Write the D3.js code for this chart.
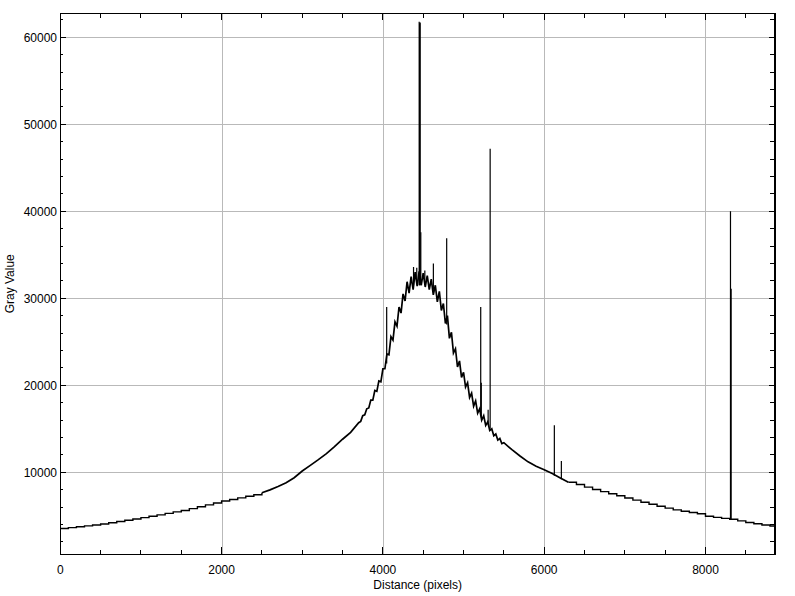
<!DOCTYPE html>
<html><head><meta charset="utf-8">
<script src="https://cdn.jsdelivr.net/npm/d3@7"></script>
<style>
html,body{margin:0;padding:0;background:#fff;}
svg{display:block;font-family:"Liberation Sans",Arial,sans-serif;}
</style></head>
<body><svg id="c" width="795" height="596"></svg>
<script>
// ---- data ----
const distance = [0,100,200,300,400,500,600,700,800,900,1000,1100,1200,1300,1400,1500,1600,1700,1800,1900,2000,2100,2200,2300,2400,2500,2600,2700,2800,2900,3000,3100,3200,3300,3400,3500,3600,
3700,3725,3750,3775,3800,3825,3850,3875,3900,3925,3950,3975,4000,4025,4050,4075,4100,4125,4150,4175,4200,4225,4250,4275,4300,4325,4350,4375,4400,4425,4450,4475,4500,4525,4550,4575,4600,4625,4650,4675,4700,4725,4750,4775,4800,4825,4850,4875,4900,4925,4950,4975,5000,5025,5050,5075,5100,5125,5150,5175,5200,5225,5250,5275,5300,5325,5350,5375,5400,5425,5450,5475,5500,
5600,5700,5800,5900,6000,6100,6200,6300,6400,6500,6600,6700,6800,6900,7000,7100,7200,7300,7400,7500,7600,7700,7800,7900,8000,8100,8200,8300,8400,8500,8600,8700,8800,8862];
const grayValue = [3540,3640,3740,3840,3950,4060,4200,4340,4490,4640,4790,4950,5110,5280,5450,5610,5830,6040,6260,6480,6700,6880,7060,7240,7420,7650,7980,8360,8800,9380,10150,10800,11450,12150,12950,13800,14600,
15700,15850,16500,16600,17300,17400,18300,18300,19400,19300,20500,20400,21900,21900,23600,23500,25600,25200,27300,26800,29000,28300,30500,29700,31900,30600,32500,31000,33000,31400,33100,31500,32900,31300,32600,31000,32200,30400,31500,29600,30800,28600,29400,27100,28000,25400,26100,23700,24200,22100,22800,20900,21500,19800,20300,18600,19100,17600,18200,16800,17300,16000,16500,15400,15800,14800,15000,14200,14400,13700,13900,13300,13400,
12600,11870,11200,10700,10300,9850,9350,8850,8600,8300,8030,7780,7540,7300,7050,6800,6560,6320,6100,5880,5680,5520,5380,5230,4950,4820,4700,4600,4420,4230,4080,3950,3830,3800];

// isolated spikes: position, foot value, top value
const spikeX    = [4047, 4380, 4420, 4450, 4456, 4462, 4470, 4520, 4626, 4791, 5213, 5220, 5305, 5330, 6126, 6213, 8310, 8318];
const spikeLow  = [22500,31500,31600,31500,31500,31500,32000,31500,31000,27000,16500,16300,15500,15000,9600, 9200, 4600, 4600];
const spikeHigh = [29000,33600,33500,61800,61600,61700,37600,33200,34000,36900,29000,20300,17200,47200,15400,11300,40000,31100];

const xMajor = [0,2000,4000,6000,8000];
const yMajor = [10000,20000,30000,40000,50000,60000];
const xLabel = "Distance (pixels)";
const yLabel = "Gray Value";

// ---- layout ----
const L=60.3, R=775, T=13.3, B=554.3;
const x = d3.scaleLinear().domain([0,8862]).range([L,R]);
const y = d3.scaleLinear().domain([575,62757]).range([B,T]);
const svg = d3.select("#c");

const xMinor = d3.range(0,8862,500);
const yMinor = d3.range(2000,62757,2000);

// grid
svg.append("g").selectAll("line").data(xMajor.filter(v=>v>0)).join("line")
  .attr("x1",d=>Math.round(x(d))+0.5).attr("x2",d=>Math.round(x(d))+0.5)
  .attr("y1",T).attr("y2",B).attr("stroke","#b9b9b9").attr("stroke-width",1);
svg.append("g").selectAll("line").data(yMajor).join("line")
  .attr("y1",d=>Math.round(y(d))+0.5).attr("y2",d=>Math.round(y(d))+0.5)
  .attr("x1",L).attr("x2",R).attr("stroke","#b9b9b9").attr("stroke-width",1);

// profile line: stepped in the flat tails, direct segments in the steep noisy middle
const pts = distance.map((d,i)=>[d,grayValue[i]]);
const leftPart  = pts.filter(p=>p[0]<=2500);
const midPart   = pts.filter(p=>p[0]>=2500 && p[0]<=6300);
const rightPart = pts.filter(p=>p[0]>=6300);
const stepLine = d3.line().x(d=>x(d[0])).y(d=>y(d[1])).curve(d3.curveStepAfter);
const linLine  = d3.line().x(d=>x(d[0])).y(d=>y(d[1]));
[[leftPart,stepLine,1.4],[midPart,linLine,1.7],[rightPart,stepLine,1.4]].forEach(([part,gen,w])=>{
  svg.append("path").datum(part)
    .attr("fill","none").attr("stroke","#000").attr("stroke-width",w)
    .attr("stroke-linejoin","miter").attr("d", gen);
});

// spikes
svg.append("g").selectAll("line").data(spikeX).join("line")
  .attr("x1",(d)=>x(d)).attr("x2",(d)=>x(d))
  .attr("y1",(d,i)=>y(spikeLow[i])).attr("y2",(d,i)=>y(spikeHigh[i]))
  .attr("stroke","#000").attr("stroke-width",1.2);

// axes (ticks inward on all sides)
const ax = svg.append("g").attr("shape-rendering","crispEdges");
function ticks(vals, len, side){
  ax.append("g").selectAll("line").data(vals).join("line")
    .each(function(d){
      const s=d3.select(this);
      if(side==="b"){ s.attr("x1",x(d)).attr("x2",x(d)).attr("y1",B).attr("y2",B-len); }
      if(side==="t"){ s.attr("x1",x(d)).attr("x2",x(d)).attr("y1",T).attr("y2",T+len); }
      if(side==="l"){ s.attr("y1",y(d)).attr("y2",y(d)).attr("x1",L).attr("x2",L+len); }
      if(side==="r"){ s.attr("y1",y(d)).attr("y2",y(d)).attr("x1",R).attr("x2",R-len); }
    }).attr("stroke","#000");
}
ticks(xMinor,4,"b"); ticks(xMajor,7,"b");
ticks(xMinor,5,"t"); ticks(xMajor,7,"t");
ticks(yMinor,3,"l"); ticks(yMajor,6,"l");
ticks(yMinor,5,"r"); ticks(yMajor,6,"r");
ax.append("rect").attr("x",L).attr("y",T).attr("width",R-L).attr("height",B-T)
  .attr("fill","none").attr("stroke","#000").attr("stroke-width",1.3);

// tick labels
svg.append("g").selectAll("text").data(xMajor).join("text")
  .attr("x",d=>x(d)).attr("y",574).attr("text-anchor","middle")
  .attr("font-size",12).attr("fill","#000").text(d=>d);
svg.append("g").selectAll("text").data(yMajor).join("text")
  .attr("x",57).attr("y",d=>y(d)+4.3).attr("text-anchor","end")
  .attr("font-size",12).attr("fill","#000").text(d=>d);

svg.append("text").attr("x",(L+R)/2).attr("y",589).attr("text-anchor","middle")
  .attr("font-size",12).text(xLabel);
svg.append("text").attr("transform",`translate(14,${(T+B)/2}) rotate(-90)`)
  .attr("text-anchor","middle").attr("font-size",12).text(yLabel);
</script></body></html>
